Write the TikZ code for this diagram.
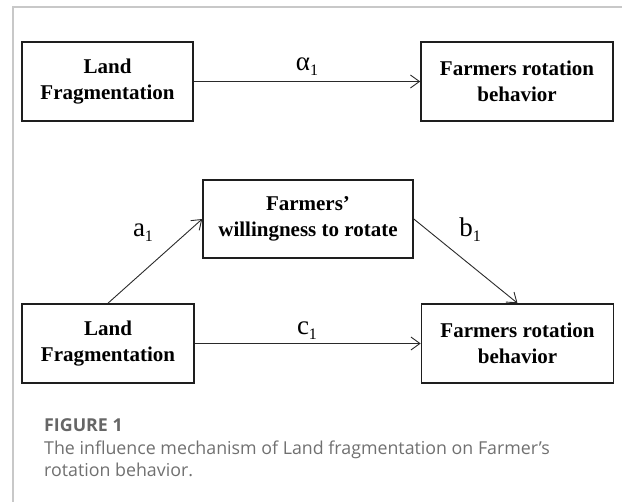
\documentclass[tikz,border=0pt]{standalone}
\usepackage{fontspec}
\setmainfont{Liberation Serif}
\newfontfamily\capfont{Open Sans}
\usetikzlibrary{arrows.meta}
\definecolor{framegray}{HTML}{C8C8C8}
\definecolor{capgray}{HTML}{707070}
\definecolor{figgray}{HTML}{666666}
\definecolor{boxline}{HTML}{1E1E1E}
\definecolor{arrowline}{HTML}{2A2A2A}
\newcommand\subone{\raisebox{-5pt}{\fontsize{16}{16}\selectfont 1}}
\tikzset{
  boxnode/.style={draw=boxline, line width=1.6pt, align=center, inner sep=0pt,
    font=\bfseries\fontsize{21}{26}\selectfont},
  pathlabel/.style={inner sep=0pt, font=\fontsize{27}{30}\selectfont},
  link/.style={draw=arrowline, line width=0.9pt, -{Straight Barb[length=9pt,width=13pt,line width=0.9pt]}},
  capline/.style={anchor=base west, inner sep=0pt, text=capgray}
}
\begin{document}
\begin{tikzpicture}[x=1pt,y=-1pt]
\useasboundingbox (0,0) rectangle (622,502);
% frame lines
\draw[framegray, line width=1.4pt] (13,502) -- (13,7) -- (622,7);
% boxes
\node[boxnode, minimum width=171pt, minimum height=79pt] (L1) at (107.5,81.5) {Land\\Fragmentation};
\node[boxnode, minimum width=192pt, minimum height=79pt] (R1) at (517,81.5) {Farmers rotation\\behavior};
\node[boxnode, minimum width=210pt, minimum height=78pt] (M) at (308,219) {Farmers’\\willingness to rotate};
\node[boxnode, minimum width=172pt, minimum height=79pt] (L2) at (108,343.5) {Land\\Fragmentation};
\node[boxnode, minimum width=192pt, minimum height=79pt] (R2) at (517.5,343.5) {Farmers rotation\\behavior};
% connectors
\draw[link] (L1.east) -- (R1.west);
\draw[link] (L2.north) -- (M.west);
\draw[link] (M.east) -- (R2.north);
\draw[link] (L2.east) -- (R2.west);
% labels
\node[pathlabel] (alpha) at (307,67) {α\subone};
\node[pathlabel] (a) at (143,233) {a\subone};
\node[pathlabel] (b) at (470,230) {b\subone};
\node[pathlabel] (c) at (307,331) {c\subone};
% caption
\node[capline, text=figgray, font=\capfont\bfseries\fontsize{17.8}{17.8}\selectfont] (fig) at (44,432) {FIGURE 1};
\node[capline, font=\capfont\fontsize{17.8}{17.8}\selectfont] (cap1) at (44,455) {The influence mechanism of Land fragmentation on Farmer’s};
\node[capline, font=\capfont\fontsize{17.8}{17.8}\selectfont] (cap2) at (44,477) {rotation behavior.};
\end{tikzpicture}
\end{document}
